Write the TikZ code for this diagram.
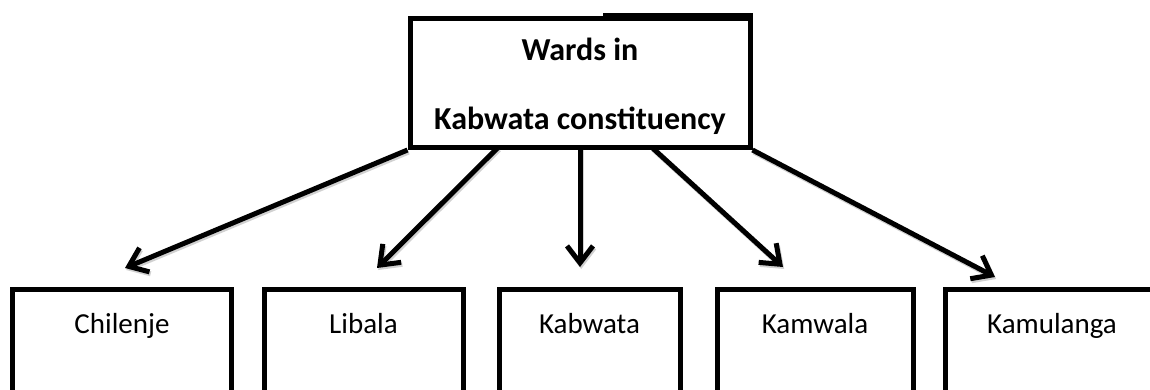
\documentclass[tikz,border=0pt]{standalone}
\usepackage{fontspec}
\setmainfont{Carlito}
\usetikzlibrary{arrows.meta}
\begin{document}
\begin{tikzpicture}[x=1pt,y=-1pt,
  wbox/.style={draw, line width=5pt, rectangle, inner sep=0pt},
  lbl/.style={font=\fontsize{29}{35}\selectfont, inner sep=0pt, anchor=base},
  tlbl/.style={font=\fontsize{32}{38}\selectfont\bfseries, inner sep=0pt, anchor=base},
  arr/.style={line width=5pt, -{Straight Barb[length=17pt,width=26pt]}},
  shadowarr/.style={arr, draw=black!30, opacity=0.6, transform canvas={shift={(1.2pt,-2pt)}}}]
\useasboundingbox (0,0) rectangle (1150,389);
\clip (0,0) rectangle (1150,389);
% top box
\node[wbox, minimum width=340pt, minimum height=129pt] (top) at (580,83) {};
\draw[line width=5pt] (603,15.5) -| (750,30);
\node[tlbl] (t1) at (580,60) {Wards in};
\node[tlbl] (t2) at (580,129) {Kabwata constituency};
% bottom boxes
\node[wbox, minimum width=219pt, minimum height=150pt, anchor=north] (b1) at (122,286.5) {};
\node[wbox, minimum width=199pt, minimum height=150pt, anchor=north] (b2) at (363.5,286.5) {};
\node[wbox, minimum width=181pt, minimum height=150pt, anchor=north] (b3) at (589.5,286.5) {};
\node[wbox, minimum width=196pt, minimum height=150pt, anchor=north] (b4) at (815,286.5) {};
\node[wbox, minimum width=214pt, minimum height=150pt, anchor=north] (b5) at (1052,286.5) {};
\node[lbl] (l1) at (122,333) {Chilenje};
\node[lbl] (l2) at (363.5,333) {Libala};
\node[lbl] (l3) at (589.5,333) {Kabwata};
\node[lbl] (l4) at (815,333) {Kamwala};
\node[lbl] (l5) at (1052,333) {Kamulanga};
% arrow ends
\coordinate (s1) at (top.south west);
\coordinate (s2) at (498,147.5);
\coordinate (s3) at (580,147.5);
\coordinate (s4) at (652,147.5);
\coordinate (s5) at (top.south east);
\coordinate (e1) at (125,268);
\coordinate (e2) at (377,268);
\coordinate (e3) at (580,267);
\coordinate (e4) at (783,267);
\coordinate (e5) at (995,277);
\foreach \i in {1,...,5}{
  \draw[shadowarr] (s\i) -- (e\i);
}
\foreach \i in {1,...,5}{
  \draw[arr] (s\i) -- (e\i);
}
\end{tikzpicture}
\end{document}
